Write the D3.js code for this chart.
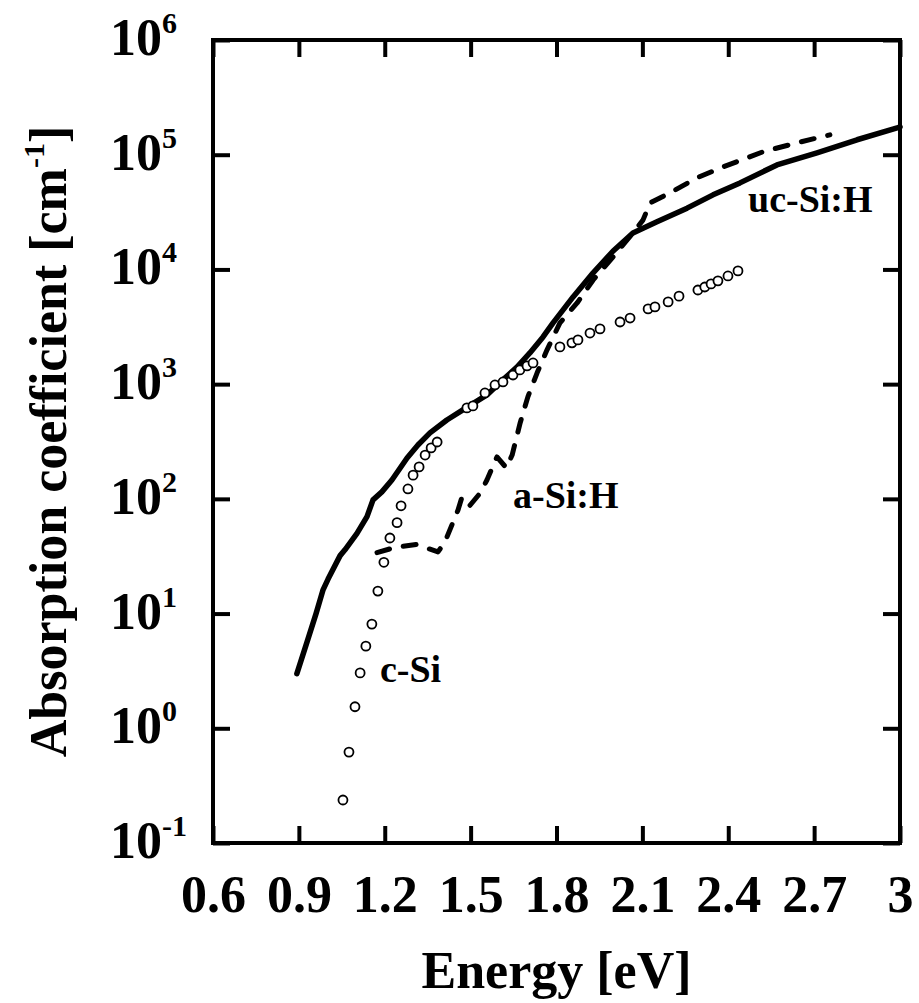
<!DOCTYPE html>
<html>
<head>
<meta charset="utf-8">
<script src="https://cdn.jsdelivr.net/npm/d3@7"></script>
<style>
  body { margin: 0; background: #fff; }
  text { font-family: "Liberation Serif", "Times New Roman", serif; font-weight: bold; fill: #000; }
</style>
</head>
<body>
<div id="chart"></div>
<script>
// chart data
var ucEnergy = [0.893, 0.93, 0.96, 0.984, 1.002, 1.044, 1.061, 1.103, 1.138, 1.159, 1.19, 1.225, 1.278, 1.316, 1.358, 1.417, 1.473, 1.557, 1.613, 1.662, 1.707, 1.753, 1.788, 1.858, 1.928, 1.997, 2.067, 2.151, 2.256, 2.347, 2.441, 2.57, 2.71, 2.85, 2.99, 3.0];
var ucAlpha = [3.0, 5.8, 10, 16, 20, 32, 36, 50, 70, 98, 115, 146, 227, 295, 376, 487, 596, 805, 1090, 1410, 1870, 2580, 3420, 5760, 9330, 14400, 20800, 26000, 34200, 44700, 56800, 81500, 104000, 135000, 171000, 175000];

var aEnergy = [1.173, 1.24, 1.31, 1.386, 1.41, 1.456, 1.47, 1.498, 1.533, 1.557, 1.592, 1.625, 1.645, 1.673, 1.700, 1.732, 1.767, 1.812, 1.872, 1.928, 1.997, 2.067, 2.102, 2.127, 2.196, 2.29, 2.382, 2.521, 2.64, 2.755];
var aAlpha = [34, 38, 40, 34.5, 42, 80, 104, 88, 112, 146, 232, 186, 241, 459, 774, 1250, 1990, 3420, 5100, 8090, 12800, 20800, 26900, 38000, 46400, 62800, 78300, 106000, 127000, 149000];

var cEnergy = [1.054, 1.075, 1.096, 1.114, 1.134, 1.155, 1.176, 1.197, 1.218, 1.243, 1.257, 1.281, 1.299, 1.32, 1.341, 1.362, 1.383, 1.487, 1.508, 1.55, 1.585, 1.613, 1.648, 1.672, 1.697, 1.718, 1.812, 1.854, 1.875, 1.917, 1.952, 2.022, 2.057, 2.12, 2.144, 2.19, 2.228, 2.294, 2.318, 2.34, 2.364, 2.399, 2.434];
var cAlpha = [0.237, 0.62, 1.54, 3.04, 5.2, 8.1, 15.7, 28, 45.6, 62, 87, 122, 161, 190, 241, 278, 313, 621, 646, 838, 984, 1045, 1202, 1330, 1442, 1530, 2110, 2290, 2430, 2790, 3030, 3480, 3770, 4530, 4710, 5210, 5850, 6620, 7030, 7480, 7950, 8770, 9710];

var xTicks = [0.6, 0.9, 1.2, 1.5, 1.8, 2.1, 2.4, 2.7, 3];
var xTickLabels = ["0.6", "0.9", "1.2", "1.5", "1.8", "2.1", "2.4", "2.7", "3"];
var yExponents = [-1, 0, 1, 2, 3, 4, 5, 6];

var curveLabels = [
  { text: "uc-Si:H", e: 2.469, a: 31700 },
  { text: "a-Si:H", e: 1.648, a: 83 },
  { text: "c-Si", e: 1.183, a: 2.54 }
];

var svgWidth = 919;
var svgHeight = 1003;

var margin = { top: 40, right: 19, bottom: 160, left: 213 };

var width = svgWidth - margin.left - margin.right;
var height = svgHeight - margin.top - margin.bottom;

var svg = d3.select("#chart")
  .append("svg")
  .attr("width", svgWidth)
  .attr("height", svgHeight);

var chartGroup = svg.append("g")
  .attr("transform", `translate(${margin.left}, ${margin.top})`);

var xScale = d3.scaleLinear().domain([0.6, 3]).range([0, width]);
var yScale = d3.scaleLog().domain([0.1, 1e6]).range([height, 0]);

var yTickValues = yExponents.map(p => Math.pow(10, p));
var tickLen = 17;

// axes, ticks point inward on all four sides
var bottomAxis = d3.axisBottom(xScale).tickValues(xTicks).tickSizeInner(-tickLen).tickSizeOuter(0)
  .tickFormat((d, i) => xTickLabels[i]);
var topAxis = d3.axisTop(xScale).tickValues(xTicks).tickSizeInner(-tickLen).tickSizeOuter(0).tickFormat("");
var leftAxis = d3.axisLeft(yScale).tickValues(yTickValues).tickSizeInner(-tickLen).tickSizeOuter(0).tickFormat("");
var rightAxis = d3.axisRight(yScale).tickValues(yTickValues).tickSizeInner(-tickLen).tickSizeOuter(0).tickFormat("");

var gx = chartGroup.append("g").attr("transform", `translate(0, ${height})`).call(bottomAxis);
chartGroup.append("g").call(topAxis);
chartGroup.append("g").call(leftAxis);
chartGroup.append("g").attr("transform", `translate(${width}, 0)`).call(rightAxis);

chartGroup.selectAll(".domain").remove();
chartGroup.selectAll(".tick line").attr("stroke", "#000").attr("stroke-width", 4);

gx.selectAll("text")
  .attr("y", 69)
  .attr("dy", 0)
  .attr("font-size", 52)
  .attr("font-family", "Liberation Serif, serif")
  .attr("font-weight", "bold");

// frame
chartGroup.append("rect")
  .attr("x", 0)
  .attr("y", 0)
  .attr("width", width)
  .attr("height", height)
  .attr("fill", "none")
  .attr("stroke", "#000")
  .attr("stroke-width", 4);

// y tick labels 10^n
var yLab = svg.append("g").selectAll("text")
  .data(yExponents)
  .enter()
  .append("text")
  .attr("x", 110)
  .attr("y", d => margin.top + yScale(Math.pow(10, d)) + 15)
  .attr("font-size", 52);
yLab.append("tspan").text("10");
yLab.append("tspan").attr("dy", -22).attr("font-size", 30).text(d => d);

// curves
var line = d3.line()
  .x(d => xScale(d[0]))
  .y(d => yScale(d[1]));

var ucData = ucEnergy.map((e, i) => [e, ucAlpha[i]]);
var aData = aEnergy.map((e, i) => [e, aAlpha[i]]);
var cData = cEnergy.map((e, i) => [e, cAlpha[i]]);

chartGroup.append("path")
  .datum(ucData)
  .attr("d", line)
  .attr("fill", "none")
  .attr("stroke", "#000")
  .attr("stroke-width", 5.5)
  .attr("stroke-linejoin", "round")
  .attr("stroke-linecap", "round");

chartGroup.append("path")
  .datum(aData)
  .attr("d", line)
  .attr("fill", "none")
  .attr("stroke", "#000")
  .attr("stroke-width", 5)
  .attr("stroke-dasharray", "13,14")
  .attr("stroke-linejoin", "round")
  .attr("stroke-linecap", "round");

chartGroup.selectAll("circle")
  .data(cData)
  .enter()
  .append("circle")
  .attr("cx", d => xScale(d[0]))
  .attr("cy", d => yScale(d[1]))
  .attr("r", 4.5)
  .attr("fill", "#fff")
  .attr("stroke", "#000")
  .attr("stroke-width", 1.8);

// curve labels
chartGroup.selectAll(".curveLabel")
  .data(curveLabels)
  .enter()
  .append("text")
  .attr("class", "curveLabel")
  .attr("x", d => xScale(d.e))
  .attr("y", d => yScale(d.a))
  .attr("font-size", 38)
  .text(d => d.text);

// axis titles
svg.append("text")
  .attr("x", margin.left + width / 2)
  .attr("y", 988)
  .attr("text-anchor", "middle")
  .attr("font-size", 52)
  .text("Energy [eV]");

var yTitle = svg.append("text")
  .attr("transform", "rotate(-90)")
  .attr("x", -(margin.top + height / 2))
  .attr("y", 66)
  .attr("text-anchor", "middle")
  .attr("font-size", 52);
yTitle.append("tspan").text("Absorption coefficient [cm");
yTitle.append("tspan").attr("dy", -22).attr("font-size", 30).text("-1");
yTitle.append("tspan").attr("dy", 22).text("]");
</script>
</body>
</html>
